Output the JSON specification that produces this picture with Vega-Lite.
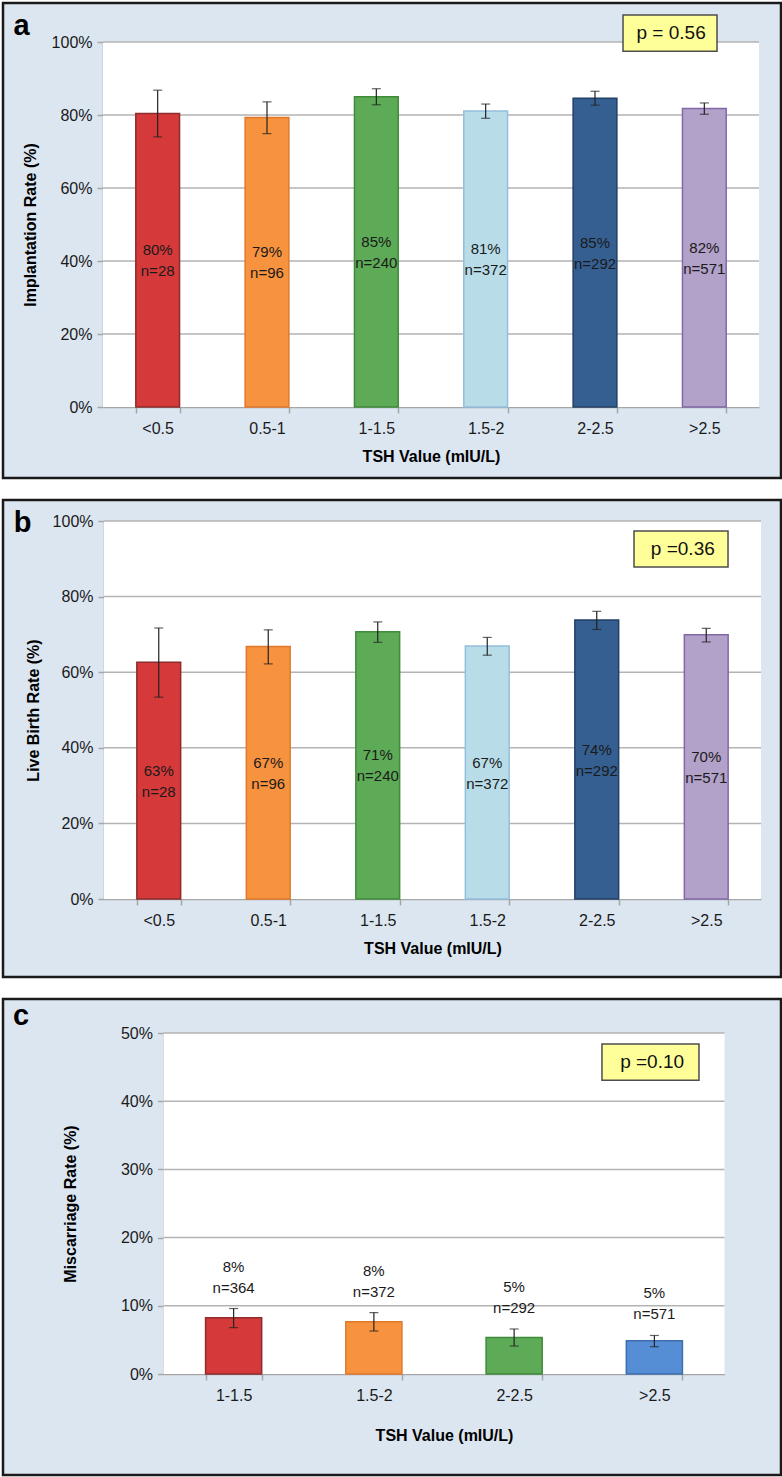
{
  "$schema": "https://vega.github.io/schema/vega-lite/v6.json",
  "padding": 1,
  "background": "white",
  "spacing": 18,
  "datasets": {
    "a": [
      {"cat": "<0.5", "value": 80.4, "lo": 74.0, "hi": 86.8, "label": "80%\nn=28"},
      {"cat": "0.5-1", "value": 79.3, "lo": 74.9, "hi": 83.6, "label": "79%\nn=96"},
      {"cat": "1-1.5", "value": 85.0, "lo": 82.8, "hi": 87.2, "label": "85%\nn=240"},
      {"cat": "1.5-2", "value": 81.1, "lo": 79.1, "hi": 83.0, "label": "81%\nn=372"},
      {"cat": "2-2.5", "value": 84.6, "lo": 82.7, "hi": 86.5, "label": "85%\nn=292"},
      {"cat": ">2.5", "value": 81.8, "lo": 80.2, "hi": 83.3, "label": "82%\nn=571"}
    ],
    "b": [
      {"cat": "<0.5", "value": 62.6, "lo": 53.4, "hi": 71.7, "label": "63%\nn=28"},
      {"cat": "0.5-1", "value": 66.8, "lo": 62.2, "hi": 71.2, "label": "67%\nn=96"},
      {"cat": "1-1.5", "value": 70.7, "lo": 67.9, "hi": 73.3, "label": "71%\nn=240"},
      {"cat": "1.5-2", "value": 66.9, "lo": 64.5, "hi": 69.2, "label": "67%\nn=372"},
      {"cat": "2-2.5", "value": 73.8, "lo": 71.3, "hi": 76.1, "label": "74%\nn=292"},
      {"cat": ">2.5", "value": 69.9, "lo": 68.0, "hi": 71.6, "label": "70%\nn=571"}
    ],
    "c": [
      {"cat": "1-1.5", "value": 8.24, "lo": 6.8, "hi": 9.6, "label": "8%\nn=364"},
      {"cat": "1.5-2", "value": 7.66, "lo": 6.3, "hi": 9.0, "label": "8%\nn=372"},
      {"cat": "2-2.5", "value": 5.36, "lo": 4.1, "hi": 6.6, "label": "5%\nn=292"},
      {"cat": ">2.5", "value": 4.87, "lo": 4.0, "hi": 5.65, "label": "5%\nn=571"}
    ]
  },
  "resolve": {"scale": {"color": "independent", "stroke": "independent"}},
  "vconcat": [
    {
      "width": 778,
      "height": 475,
      "resolve": {"scale": {"x": "independent", "y": "independent"}},
      "layer": [
        {
          "data": {"values": [{}]},
          "layer": [
            {
              "mark": {"type": "rect", "fill": "white"},
              "encoding": {
                "x": {"datum": 0, "type": "quantitative", "scale": {"domain": [0, 1], "range": [100, 756], "nice": false, "zero": false}, "axis": null},
                "x2": {"datum": 1},
                "y": {"datum": 0, "type": "quantitative", "scale": {"domain": [0, 100], "range": [404, 39], "nice": false, "zero": false}, "axis": null},
                "y2": {"datum": 100}
              }
            },
            {
              "data": {"values": [{"g": 20}, {"g": 40}, {"g": 60}, {"g": 80}, {"g": 100}]},
              "mark": {"type": "rule", "color": "#b3b3b3", "strokeWidth": 1.5},
              "encoding": {
                "x": {"datum": 0, "type": "quantitative"},
                "x2": {"datum": 1},
                "y": {"field": "g", "type": "quantitative"}
              }
            },
            {
              "mark": {"type": "rect", "fill": "#ffff99", "stroke": "#4d4d4d", "strokeWidth": 1.5},
              "encoding": {
                "x": {"datum": 0.7927, "type": "quantitative"},
                "x2": {"datum": 0.936},
                "y": {"datum": 107.4, "type": "quantitative"},
                "y2": {"datum": 97.5}
              }
            },
            {
              "mark": {"type": "text", "text": "p = 0.56", "fontSize": 19, "baseline": "middle", "align": "center", "color": "#111"},
              "encoding": {
                "x": {"datum": 0.866, "type": "quantitative"},
                "y": {"datum": 102.4, "type": "quantitative"}
              }
            },
            {
              "mark": {"type": "text", "text": "a", "fontSize": 29, "fontWeight": "bold", "baseline": "alphabetic", "align": "center", "color": "#000"},
              "encoding": {
                "x": {"datum": -0.1242, "type": "quantitative"},
                "y": {"datum": 101.9, "type": "quantitative"}
              }
            }
          ]
        },
        {
          "data": {"name": "a"},
          "encoding": {
            "x": {"field": "cat", "type": "nominal", "sort": null, "title": "TSH Value (mIU/L)",
              "scale": {"range": [100, 756], "paddingInner": 0.6, "paddingOuter": 0.3},
              "axis": {"orient": "bottom", "offset": -71, "labelAngle": 0, "tickBand": "extent", "labelPadding": 7, "titlePadding": 12, "tickSize": 6}}
          },
          "layer": [
            {
              "mark": {"type": "bar", "strokeWidth": 1.5},
              "encoding": {
                "y": {"field": "value", "type": "quantitative", "title": "Implantation Rate (%)",
                  "scale": {"domain": [0, 100], "range": [404, 39], "nice": false, "zero": false},
                  "axis": {"orient": "left", "offset": -100, "values": [0, 20, 40, 60, 80, 100], "labelExpr": "datum.value + '%'", "titlePadding": 13, "labelPadding": 5, "tickSize": 6}},
                "color": {"field": "cat", "type": "nominal", "legend": null,
                  "scale": {"domain": ["<0.5", "0.5-1", "1-1.5", "1.5-2", "2-2.5", ">2.5"], "range": ["#d6393a", "#f7923e", "#5dab56", "#b8dde9", "#355f91", "#b2a1c8"]}},
                "stroke": {"field": "cat", "type": "nominal", "legend": null,
                  "scale": {"domain": ["<0.5", "0.5-1", "1-1.5", "1.5-2", "2-2.5", ">2.5"], "range": ["#8c2c2c", "#e0782a", "#3f8b3b", "#93bedc", "#223f66", "#8368a8"]}}
              }
            },
            {
              "mark": {"type": "rule", "color": "#222", "strokeWidth": 1.2},
              "encoding": {
                "y": {"field": "lo", "type": "quantitative", "title": "Implantation Rate (%)"},
                "y2": {"field": "hi"}
              }
            },
            {
              "mark": {"type": "tick", "color": "#222", "thickness": 1.2, "size": 9, "orient": "horizontal"},
              "encoding": {"y": {"field": "hi", "type": "quantitative", "title": "Implantation Rate (%)"}}
            },
            {
              "mark": {"type": "tick", "color": "#222", "thickness": 1.2, "size": 9, "orient": "horizontal"},
              "encoding": {"y": {"field": "lo", "type": "quantitative", "title": "Implantation Rate (%)"}}
            }
          ]
        },
        {
          "data": {"name": "a"},
          "mark": {"type": "text", "fontSize": 15, "lineHeight": 21, "lineBreak": "\n", "baseline": "middle", "align": "center", "dy": -10, "color": "#1a1a1a"},
          "encoding": {
            "x": {"field": "cat", "type": "nominal", "sort": null, "scale": {"range": [100, 756], "paddingInner": 0.6, "paddingOuter": 0.3}, "axis": null},
            "y": {"field": "value", "type": "quantitative", "scale": {"domain": [0, 200], "range": [404, 39], "nice": false, "zero": false}, "axis": null},
            "text": {"field": "label"}
          }
        }
      ]
    },
    {
      "width": 778,
      "height": 477,
      "resolve": {"scale": {"x": "independent", "y": "independent"}},
      "layer": [
        {
          "data": {"values": [{}]},
          "layer": [
            {
              "mark": {"type": "rect", "fill": "white"},
              "encoding": {
                "x": {"datum": 0, "type": "quantitative", "scale": {"domain": [0, 1], "range": [101, 758], "nice": false, "zero": false}, "axis": null},
                "x2": {"datum": 1},
                "y": {"datum": 0, "type": "quantitative", "scale": {"domain": [0, 100], "range": [399, 21], "nice": false, "zero": false}, "axis": null},
                "y2": {"datum": 100}
              }
            },
            {
              "data": {"values": [{"g": 20}, {"g": 40}, {"g": 60}, {"g": 80}, {"g": 100}]},
              "mark": {"type": "rule", "color": "#b3b3b3", "strokeWidth": 1.5},
              "encoding": {
                "x": {"datum": 0, "type": "quantitative"},
                "x2": {"datum": 1},
                "y": {"field": "g", "type": "quantitative"}
              }
            },
            {
              "mark": {"type": "rect", "fill": "#ffff99", "stroke": "#4d4d4d", "strokeWidth": 1.5},
              "encoding": {
                "x": {"datum": 0.8067, "type": "quantitative"},
                "x2": {"datum": 0.9498},
                "y": {"datum": 97.35, "type": "quantitative"},
                "y2": {"datum": 87.8}
              }
            },
            {
              "mark": {"type": "text", "text": "p =0.36", "fontSize": 19, "baseline": "middle", "align": "center", "color": "#111"},
              "encoding": {
                "x": {"datum": 0.881, "type": "quantitative"},
                "y": {"datum": 92.6, "type": "quantitative"}
              }
            },
            {
              "mark": {"type": "text", "text": "b", "fontSize": 29, "fontWeight": "bold", "baseline": "alphabetic", "align": "center", "color": "#000"},
              "encoding": {
                "x": {"datum": -0.1237, "type": "quantitative"},
                "y": {"datum": 97.2, "type": "quantitative"}
              }
            }
          ]
        },
        {
          "data": {"name": "b"},
          "encoding": {
            "x": {"field": "cat", "type": "nominal", "sort": null, "title": "TSH Value (mIU/L)",
              "scale": {"range": [101, 758], "paddingInner": 0.6, "paddingOuter": 0.3},
              "axis": {"orient": "bottom", "offset": -78, "labelAngle": 0, "tickBand": "extent", "labelPadding": 7, "titlePadding": 12, "tickSize": 6}}
          },
          "layer": [
            {
              "mark": {"type": "bar", "strokeWidth": 1.5},
              "encoding": {
                "y": {"field": "value", "type": "quantitative", "title": "Live Birth Rate (%)",
                  "scale": {"domain": [0, 100], "range": [399, 21], "nice": false, "zero": false},
                  "axis": {"orient": "left", "offset": -101, "values": [0, 20, 40, 60, 80, 100], "labelExpr": "datum.value + '%'", "titlePadding": 11, "labelPadding": 5, "tickSize": 6}},
                "color": {"field": "cat", "type": "nominal", "legend": null,
                  "scale": {"domain": ["<0.5", "0.5-1", "1-1.5", "1.5-2", "2-2.5", ">2.5"], "range": ["#d6393a", "#f7923e", "#5dab56", "#b8dde9", "#355f91", "#b2a1c8"]}},
                "stroke": {"field": "cat", "type": "nominal", "legend": null,
                  "scale": {"domain": ["<0.5", "0.5-1", "1-1.5", "1.5-2", "2-2.5", ">2.5"], "range": ["#8c2c2c", "#e0782a", "#3f8b3b", "#93bedc", "#223f66", "#8368a8"]}}
              }
            },
            {
              "mark": {"type": "rule", "color": "#222", "strokeWidth": 1.2},
              "encoding": {
                "y": {"field": "lo", "type": "quantitative", "title": "Live Birth Rate (%)"},
                "y2": {"field": "hi"}
              }
            },
            {
              "mark": {"type": "tick", "color": "#222", "thickness": 1.2, "size": 9, "orient": "horizontal"},
              "encoding": {"y": {"field": "hi", "type": "quantitative", "title": "Live Birth Rate (%)"}}
            },
            {
              "mark": {"type": "tick", "color": "#222", "thickness": 1.2, "size": 9, "orient": "horizontal"},
              "encoding": {"y": {"field": "lo", "type": "quantitative", "title": "Live Birth Rate (%)"}}
            }
          ]
        },
        {
          "data": {"name": "b"},
          "mark": {"type": "text", "fontSize": 15, "lineHeight": 21, "lineBreak": "\n", "baseline": "middle", "align": "center", "dy": -10, "color": "#1a1a1a"},
          "encoding": {
            "x": {"field": "cat", "type": "nominal", "sort": null, "scale": {"range": [101, 758], "paddingInner": 0.6, "paddingOuter": 0.3}, "axis": null},
            "y": {"field": "value", "type": "quantitative", "scale": {"domain": [0, 200], "range": [399, 21], "nice": false, "zero": false}, "axis": null},
            "text": {"field": "label"}
          }
        }
      ]
    },
    {
      "width": 778,
      "height": 476,
      "resolve": {"scale": {"x": "independent", "y": "independent"}},
      "layer": [
        {
          "data": {"values": [{}]},
          "layer": [
            {
              "mark": {"type": "rect", "fill": "white"},
              "encoding": {
                "x": {"datum": 0, "type": "quantitative", "scale": {"domain": [0, 1], "range": [160.5, 721.5], "nice": false, "zero": false}, "axis": null},
                "x2": {"datum": 1},
                "y": {"datum": 0, "type": "quantitative", "scale": {"domain": [0, 50], "range": [375, 34], "nice": false, "zero": false}, "axis": null},
                "y2": {"datum": 50}
              }
            },
            {
              "data": {"values": [{"g": 10}, {"g": 20}, {"g": 30}, {"g": 40}, {"g": 50}]},
              "mark": {"type": "rule", "color": "#b3b3b3", "strokeWidth": 1.5},
              "encoding": {
                "x": {"datum": 0, "type": "quantitative"},
                "x2": {"datum": 1},
                "y": {"field": "g", "type": "quantitative"}
              }
            },
            {
              "mark": {"type": "rect", "fill": "#ffff99", "stroke": "#4d4d4d", "strokeWidth": 1.5},
              "encoding": {
                "x": {"datum": 0.7816, "type": "quantitative"},
                "x2": {"datum": 0.9545},
                "y": {"datum": 48.4, "type": "quantitative"},
                "y2": {"datum": 43.06}
              }
            },
            {
              "mark": {"type": "text", "text": "p =0.10", "fontSize": 19, "baseline": "middle", "align": "center", "color": "#111"},
              "encoding": {
                "x": {"datum": 0.871, "type": "quantitative"},
                "y": {"datum": 45.73, "type": "quantitative"}
              }
            },
            {
              "mark": {"type": "text", "text": "c", "fontSize": 29, "fontWeight": "bold", "baseline": "alphabetic", "align": "center", "color": "#000"},
              "encoding": {
                "x": {"datum": -0.2537, "type": "quantitative"},
                "y": {"datum": 51.1, "type": "quantitative"}
              }
            }
          ]
        },
        {
          "data": {"name": "c"},
          "encoding": {
            "x": {"field": "cat", "type": "nominal", "sort": null, "title": "TSH Value (mIU/L)",
              "scale": {"range": [160.5, 721.5], "paddingInner": 0.6, "paddingOuter": 0.3},
              "axis": {"orient": "bottom", "offset": -101, "labelAngle": 0, "tickBand": "extent", "labelPadding": 7, "titlePadding": 24, "tickSize": 6}}
          },
          "layer": [
            {
              "mark": {"type": "bar", "strokeWidth": 1.5},
              "encoding": {
                "y": {"field": "value", "type": "quantitative", "title": "Miscarriage Rate (%)",
                  "scale": {"domain": [0, 50], "range": [375, 34], "nice": false, "zero": false},
                  "axis": {"orient": "left", "offset": -160.5, "values": [0, 10, 20, 30, 40, 50], "labelExpr": "datum.value + '%'", "titlePadding": 42, "labelPadding": 5, "tickSize": 6}},
                "color": {"field": "cat", "type": "nominal", "legend": null,
                  "scale": {"domain": ["1-1.5", "1.5-2", "2-2.5", ">2.5"], "range": ["#d6393a", "#f7923e", "#5dab56", "#558ed5"]}},
                "stroke": {"field": "cat", "type": "nominal", "legend": null,
                  "scale": {"domain": ["1-1.5", "1.5-2", "2-2.5", ">2.5"], "range": ["#8c2c2c", "#e0782a", "#3f8b3b", "#3d6fae"]}}
              }
            },
            {
              "mark": {"type": "rule", "color": "#222", "strokeWidth": 1.2},
              "encoding": {
                "y": {"field": "lo", "type": "quantitative", "title": "Miscarriage Rate (%)"},
                "y2": {"field": "hi"}
              }
            },
            {
              "mark": {"type": "tick", "color": "#222", "thickness": 1.2, "size": 9, "orient": "horizontal"},
              "encoding": {"y": {"field": "hi", "type": "quantitative", "title": "Miscarriage Rate (%)"}}
            },
            {
              "mark": {"type": "tick", "color": "#222", "thickness": 1.2, "size": 9, "orient": "horizontal"},
              "encoding": {"y": {"field": "lo", "type": "quantitative", "title": "Miscarriage Rate (%)"}}
            },
            {
              "mark": {"type": "text", "fontSize": 15, "lineHeight": 21, "lineBreak": "\n", "baseline": "alphabetic", "align": "center", "dy": -37, "color": "#1a1a1a"},
              "encoding": {
                "y": {"field": "hi", "type": "quantitative", "title": "Miscarriage Rate (%)"},
                "text": {"field": "label"}
              }
            }
          ]
        }
      ]
    }
  ],
  "config": {
    "font": "Liberation Sans, Arial, Helvetica, sans-serif",
    "view": {"fill": "#dce6f1", "stroke": "#1a1a1a", "strokeWidth": 2.5},
    "axis": {
      "grid": false,
      "labelFont": "Liberation Sans, Arial, sans-serif",
      "labelFontSize": 16,
      "labelColor": "#1a1a1a",
      "titleFont": "Liberation Sans, Arial, sans-serif",
      "titleFontSize": 16,
      "titleFontWeight": "bold",
      "titleColor": "#000",
      "domainColor": "#a6a6a6",
      "domainWidth": 1.5,
      "tickColor": "#a6a6a6",
      "tickWidth": 1.5
    }
  }
}
